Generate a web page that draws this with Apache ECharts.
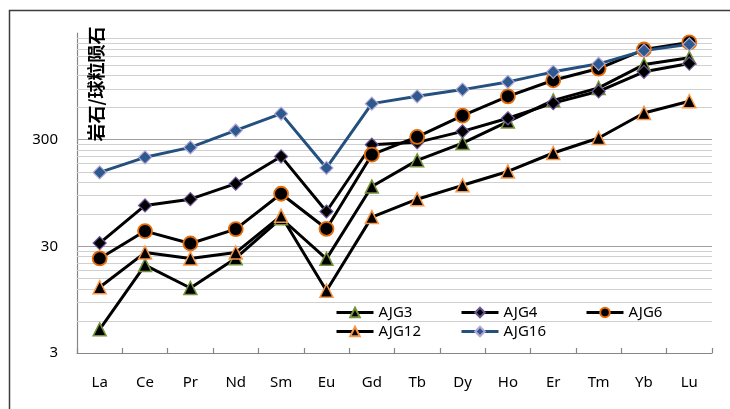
<!DOCTYPE html>
<html>
<head>
<meta charset="utf-8">
<script src="https://cdn.jsdelivr.net/npm/echarts@6/dist/echarts.min.js"></script>
<style>
  html, body { margin: 0; padding: 0; background: #ffffff; }
  #chart { width: 730px; height: 409px; }
</style>
</head>
<body>
<div id="chart"></div>
<script>
// Rare earth elements (x categories)
const elements = ['La', 'Ce', 'Pr', 'Nd', 'Sm', 'Eu', 'Gd', 'Tb', 'Dy', 'Ho', 'Er', 'Tm', 'Yb', 'Lu'];

// Chondrite-normalised REE values per sample
const ajg3  = [5.0, 20, 12.2, 23.2, 55, 22.9, 109, 192, 279, 443, 700, 917, 1518, 1755];
const ajg4  = [32.2, 72.5, 83, 116, 209, 63.6, 269, 283, 359, 476, 660, 852, 1297, 1551];
const ajg6  = [23.1, 41.7, 31.9, 43.5, 93.3, 43.8, 217, 318, 504, 765, 1081, 1392, 2100, 2450];
const ajg12 = [12.4, 26.2, 23.1, 26.2, 58, 11.5, 56.4, 83, 112, 151, 225, 311, 534, 687];
const ajg16 = [148, 205, 254, 366, 526, 163, 653, 765, 884, 1044, 1297, 1542, 2050, 2350];

// Y axis range and labelled ticks
const yMin = 3;
const yMax = 3000;
const yTickLabels = [3, 30, 300];

// Horizontal gridlines: decade lines and the x2..x9 steps inside each decade
const majorGrid = [30, 300];
const minorGrid = [];
[3, 30, 300].forEach(function (d) {
  for (let k = 2; k <= 9; k++) minorGrid.push(d * k);
});

const FONT = '"Noto Sans", "DejaVu Sans", sans-serif';

function gridLines() {
  const data = [];
  minorGrid.forEach(function (v) {
    data.push({ yAxis: v, lineStyle: { color: '#d0d0d0', width: 1.2, type: 'solid' } });
  });
  majorGrid.forEach(function (v) {
    data.push({ yAxis: v, lineStyle: { color: '#a0a0a0', width: 1.2, type: 'solid' } });
  });
  return {
    silent: true,
    symbol: ['none', 'none'],
    label: { show: false },
    emphasis: { disabled: true },
    animation: false,
    z: 1,
    data: data
  };
}

function lineSeries(name, data, opts) {
  return {
    name: name,
    type: 'line',
    data: data,
    z: 3,
    symbol: opts.symbol,
    symbolSize: opts.size,
    showSymbol: true,
    showAllSymbol: true,
    lineStyle: { color: opts.line, width: 3 },
    itemStyle: { color: opts.fill, borderColor: opts.border, borderWidth: opts.bw },
    emphasis: { disabled: true },
    markLine: opts.markLine
  };
}

const chart = echarts.init(document.getElementById('chart'), null, { renderer: 'canvas' });

const legendText = { fontFamily: FONT, fontSize: 15, color: '#000000' };
function legendBlock(names, left) {
  return {
    orient: 'vertical',
    left: left,
    top: 305,
    padding: 0,
    itemWidth: 37,
    itemHeight: 12,
    itemGap: 4,
    textStyle: legendText,
    lineStyle: { width: 3 },
    selectedMode: false,
    data: names
  };
}

chart.setOption({
  animation: false,
  backgroundColor: '#ffffff',
  grid: { left: 77, right: 18, top: 33, bottom: 56, containLabel: false },
  legend: [
    legendBlock(['AJG3', 'AJG12'], 335),
    legendBlock(['AJG4', 'AJG16'], 460),
    legendBlock(['AJG6'], 585)
  ],
  xAxis: {
    type: 'category',
    data: elements,
    boundaryGap: true,
    axisLine: { onZero: false, lineStyle: { color: '#868686', width: 1.2 } },
    axisTick: { show: true, inside: true, length: 5, alignWithLabel: false, interval: 0,
                lineStyle: { color: '#868686', width: 1.2 } },
    axisLabel: { interval: 0, margin: 22, fontFamily: FONT, fontSize: 15, color: '#000000' },
    splitLine: { show: false }
  },
  yAxis: {
    type: 'log',
    logBase: 10,
    min: yMin,
    max: yMax,
    axisLine: { show: true, lineStyle: { color: '#868686', width: 1.2 } },
    axisTick: { show: false },
    axisLabel: { customValues: yTickLabels, margin: 19, fontFamily: FONT, fontSize: 15, color: '#000000' },
    splitLine: { show: false },
    minorSplitLine: { show: false }
  },
  graphic: [
    {
      type: 'rect',
      silent: true,
      shape: { x: 9.5, y: 10.5, width: 900, height: 600 },
      style: { fill: 'none', stroke: '#3c3c3c', lineWidth: 1.5 },
      z: 0
    },
    {
      type: 'text',
      silent: true,
      x: 96,
      y: 84,
      rotation: Math.PI / 2,
      z: 10,
      style: {
        text: '岩石/球粒陨石',
        fontFamily: '"Noto Sans CJK SC", sans-serif',
        fontSize: 18,
        fontWeight: 'bold',
        fill: '#000000',
        textAlign: 'center',
        textVerticalAlign: 'middle',
        verticalAlign: 'middle'
      }
    }
  ],
  series: [
    lineSeries('AJG3', ajg3, { symbol: 'triangle', size: 13, line: '#000000', fill: '#000000', border: '#77933c', bw: 1.5, markLine: gridLines() }),
    lineSeries('AJG4', ajg4, { symbol: 'diamond', size: 13, line: '#000000', fill: '#000000', border: '#6b5394', bw: 1.2 }),
    lineSeries('AJG6', ajg6, { symbol: 'circle', size: 14, line: '#000000', fill: '#000000', border: '#e46c0a', bw: 1.8 }),
    lineSeries('AJG12', ajg12, { symbol: 'triangle', size: 13, line: '#000000', fill: '#000000', border: '#f79646', bw: 1.5 }),
    lineSeries('AJG16', ajg16, { symbol: 'diamond', size: 13, line: '#24507f', fill: '#2c5a8f', border: '#b4a7d6', bw: 1.2 })
  ]
});
</script>
</body>
</html>
